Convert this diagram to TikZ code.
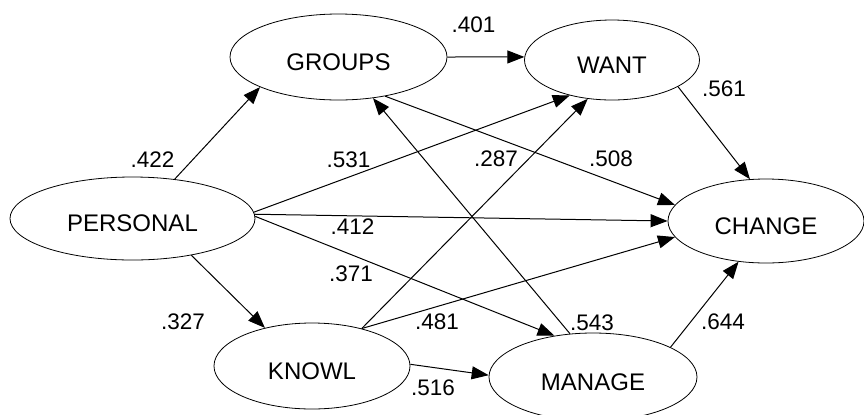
\documentclass[tikz,border=0pt]{standalone}
\usepackage{fontspec}
\setmainfont{Liberation Sans}
\usetikzlibrary{shapes.geometric,arrows.meta}
\begin{document}
\begin{tikzpicture}[x=0.5pt,y=-0.5pt,
  var/.style={draw, ellipse, line width=0.4pt, inner sep=0pt,
    font=\fontsize{12}{14}\selectfont, text height=13.1pt, text depth=0pt},
  conn/.style={line width=0.5pt, -{Triangle[length=8.5pt,width=6.5pt]}},
  coef/.style={inner sep=0pt, font=\fontsize{11.25}{13}\selectfont}]
\useasboundingbox (0,0) rectangle (864,414);
\clip (0,0) rectangle (864,414);
% variables
\node[var, minimum width=108.5pt, minimum height=43pt] (groups) at (338.5,57) {GROUPS};
\node[var, minimum width=87.5pt, minimum height=40pt] (want) at (612,60) {WANT};
\node[var, minimum width=122.5pt, minimum height=41.5pt] (personal) at (132.5,218.5) {PERSONAL};
\node[var, minimum width=98pt, minimum height=42pt] (change) at (766,221) {CHANGE};
\node[var, minimum width=98pt, minimum height=43pt] (knowl) at (312,366) {KNOWL};
\node[var, minimum width=104pt, minimum height=44pt] (manage) at (593,377) {MANAGE};
% paths
\draw[conn] (personal.43.5) -- (groups.201.5);
\draw[conn] (groups.0) -- (want.178);
\draw[conn] (personal.3.1) -- (want.220);
\draw[conn] (personal.2.6) -- (change.180);
\draw[conn] (personal.1.6) -- (manage.133.6);
\draw[conn] (personal.-32.9) -- (knowl.141.5);
\draw[conn] (groups.-40) -- (change.170);
\draw[conn] (manage.118.6) -- (groups.-50.7);
\draw[conn] (knowl.37.3) -- (want.238);
\draw[conn] (knowl.37.3) -- (change.190.2);
\draw[conn] (want.-22.6) -- (change.111.3);
\draw[conn] (knowl.1.7) -- (manage.179.4);
\draw[conn] (manage.21.4) -- (change.236.3);
% coefficients
\node[coef] (c401) at (473.5,24.5) {.401};
\node[coef] (c422) at (152.5,160) {.422};
\node[coef] (c531) at (348.5,160) {.531};
\node[coef] (c287) at (496,159) {.287};
\node[coef] (c508) at (611,159) {.508};
\node[coef] (c561) at (724,89) {.561};
\node[coef] (c412) at (352.5,226.5) {.412};
\node[coef] (c371) at (351,274) {.371};
\node[coef] (c327) at (183,322) {.327};
\node[coef] (c481) at (437,322) {.481};
\node[coef] (c543) at (592,323) {.543};
\node[coef] (c644) at (723,322) {.644};
\node[coef] (c516) at (433,388) {.516};
\end{tikzpicture}
\end{document}
